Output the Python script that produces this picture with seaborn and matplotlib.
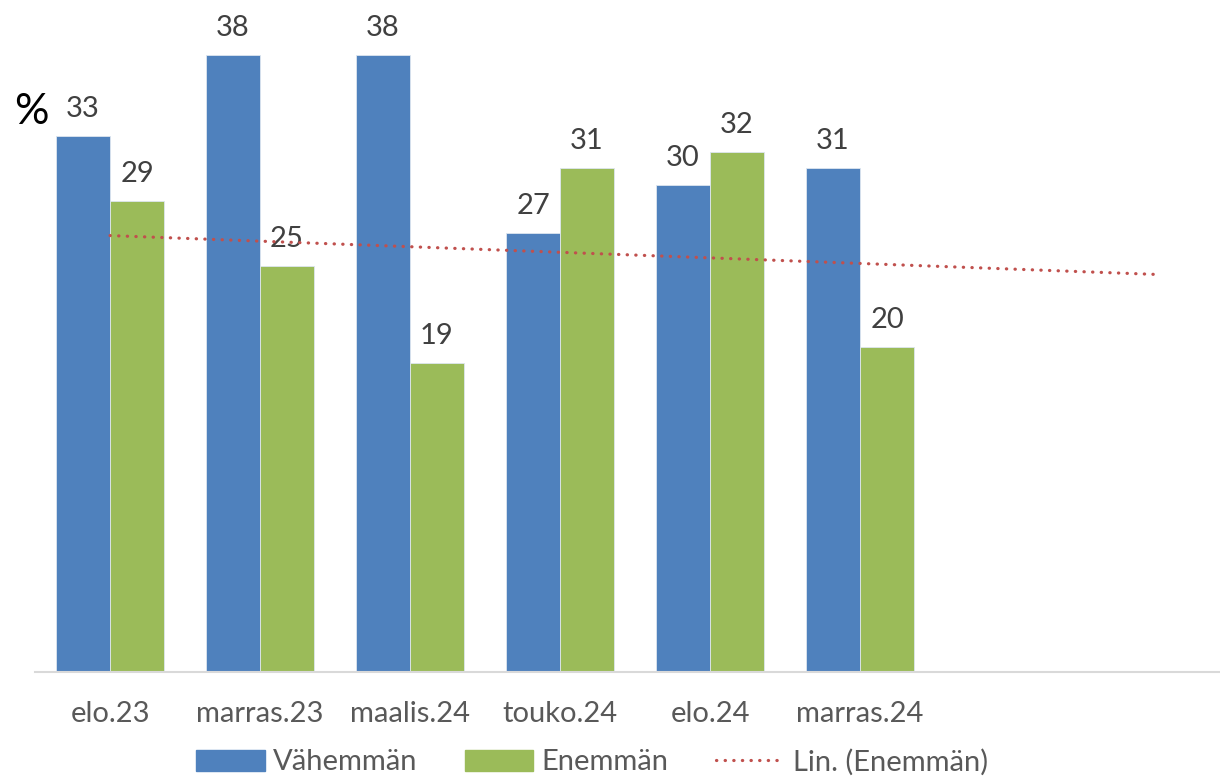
import numpy as np
import pandas as pd
import seaborn as sns
import matplotlib.pyplot as plt
from matplotlib.patches import Patch
from matplotlib.lines import Line2D

categories = ['elo.23', 'marras.23', 'maalis.24', 'touko.24', 'elo.24', 'marras.24']
vahemman = [33, 38, 38, 27, 30, 31]
enemman = [29, 25, 19, 31, 32, 20]
series = ['Vähemmän', 'Enemmän']
colors = ['#4F81BD', '#9BBB59']
trend_color = '#C0504D'

df = pd.DataFrame({
    'kausi': categories * 2,
    'arvo': vahemman + enemman,
    'sarja': [series[0]] * len(categories) + [series[1]] * len(categories),
})

sns.set_theme(style='white')
plt.rcParams['font.family'] = ['Lato', 'DejaVu Sans']

fig = plt.figure(figsize=(12.2, 7.76), dpi=100)
ax = fig.add_axes([35 / 1220, 104 / 776, 1200 / 1220, 650 / 776])

sns.barplot(data=df, x='kausi', y='arvo', hue='sarja', order=categories,
            hue_order=series, palette=colors, saturation=1, width=0.72, gap=0,
            edgecolor='#DDE6F0', linewidth=0.6, legend=False, ax=ax)

for c in ax.containers:
    ax.bar_label(c, padding=10, fontsize=21, color='#404040')

# linear trend (Enemmän), forecast 2 periods ahead
x = np.arange(len(categories))
k, b = np.polyfit(x, enemman, 1)
xt = np.arange(len(categories) + 2)
ax.plot(xt, k * xt + b, color=trend_color, lw=2.3, linestyle=(0, (0.1, 2.6)),
        dash_capstyle='round', zorder=5)

ax.set_xlim(-0.5, 7.5)
ax.set_ylim(0, 40)
ax.set_xlabel('')
ax.set_ylabel('')
ax.set_yticks([])
ax.tick_params(axis='x', length=0, labelsize=21, labelcolor='#595959', pad=21)
for s in ['top', 'right', 'left']:
    ax.spines[s].set_visible(False)
ax.spines['bottom'].set_color('#D9D9D9')
ax.spines['bottom'].set_linewidth(1.5)

fig.text(14 / 1220, 1 - 112 / 776, '%', fontsize=31, color='black', va='center', ha='left')

handles = [Patch(color=colors[0]), Patch(color=colors[1]),
           Line2D([0], [0], color=trend_color, lw=2.3, linestyle=(0, (0.1, 2.6)),
                  dash_capstyle='round')]
labels = series + ['Lin. (Enemmän)']
fig.legend(handles, labels, loc='center', bbox_to_anchor=(592 / 1220, 1 - 762 / 776),
           ncol=3, frameon=False, fontsize=21, labelcolor='#595959',
           handlelength=2.35, handleheight=0.75, handletextpad=0.3, columnspacing=1.6)

fig.savefig('out.png', dpi=100)
